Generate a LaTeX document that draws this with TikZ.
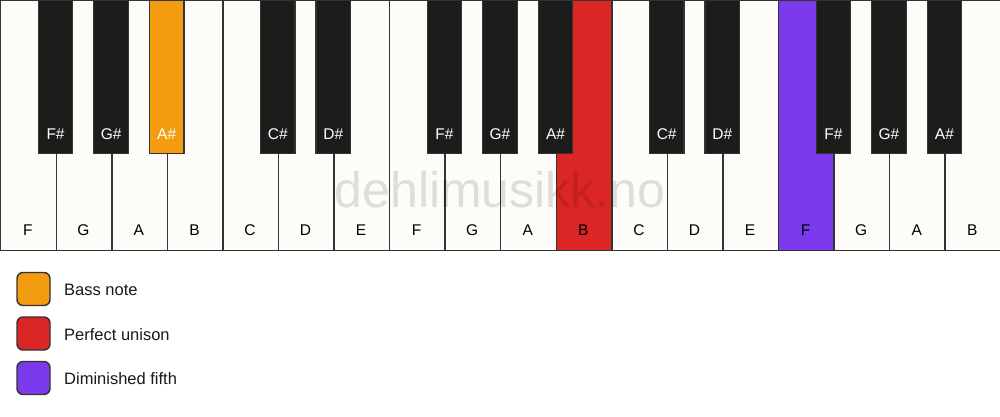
\documentclass[tikz,border=0pt]{standalone}
\usepackage{fontspec}
\setmainfont{Liberation Sans}
\definecolor{ivory}{HTML}{FDFCF9}
\definecolor{ebony}{HTML}{1C1C1A}
\definecolor{edge}{HTML}{333333}
\definecolor{bassc}{HTML}{F39C0F}
\definecolor{unisonc}{HTML}{DC2626}
\definecolor{fifthc}{HTML}{7C3AED}
\tikzset{
  whitekey/.style={draw=edge, line width=1.4pt, fill=ivory, rectangle, inner sep=0pt, anchor=north west, minimum width=55.556pt, minimum height=250pt},
  blackkey/.style={draw=edge, line width=1.2pt, fill=ebony, rectangle, inner sep=0pt, anchor=north, minimum width=34.5pt, minimum height=153pt},
  wlabel/.style={font=\fontsize{15.5}{18}\selectfont, text=black, inner sep=0pt},
  blabel/.style={font=\fontsize{15.5}{18}\selectfont, text=white, inner sep=0pt},
  legbox/.style={draw=edge, line width=1.4pt, rounded corners=6pt, minimum width=33pt, minimum height=33pt, inner sep=0pt},
  legtext/.style={font=\fontsize{16.5}{19}\selectfont, text=black!90, anchor=west, inner sep=0pt},
  watermark/.style={font=\fontsize{50}{56}\selectfont, text=black, text opacity=0.12, inner sep=0pt}
}
\begin{document}
\begin{tikzpicture}[x=1pt,y=-1pt]
\useasboundingbox[fill=white] (0,0) rectangle (1000,417);
% white keys
\foreach \n/\c [count=\i from 0] in {F/ivory,G/ivory,A/ivory,B/ivory,C/ivory,D/ivory,E/ivory,F/ivory,G/ivory,A/ivory,B/unisonc,C/ivory,D/ivory,E/ivory,F/fifthc,G/ivory,A/ivory,B/ivory}{
  \node[whitekey, fill=\c] (w\i) at ({\i*55.556},0) {};
  \node[wlabel] (wl\i) at ({\i*55.556+27.778},230.5) {\n};
}
% black keys
\foreach \n/\b/\c [count=\i] in {F\#/1/ebony,G\#/2/ebony,A\#/3/bassc,C\#/5/ebony,D\#/6/ebony,F\#/8/ebony,G\#/9/ebony,A\#/10/ebony,C\#/12/ebony,D\#/13/ebony,F\#/15/ebony,G\#/16/ebony,A\#/17/ebony}{
  \node[blackkey, fill=\c] (k\i) at ({\b*55.556},0) {};
  \node[blabel] (kl\i) at ({\b*55.556},134) {\n};
}
% watermark
\node[watermark] (wm) at (500,190) {dehlimusikk.no};
% legend
\node[legbox, fill=bassc] (lb1) at (33.5,289) {};
\node[legtext] (lt1) at (64,290) {Bass note};
\node[legbox, fill=unisonc] (lb2) at (33.5,333.5) {};
\node[legtext] (lt2) at (64,334.5) {Perfect unison};
\node[legbox, fill=fifthc] (lb3) at (33.5,378) {};
\node[legtext] (lt3) at (64,379) {Diminished fifth};
\end{tikzpicture}
\end{document}
